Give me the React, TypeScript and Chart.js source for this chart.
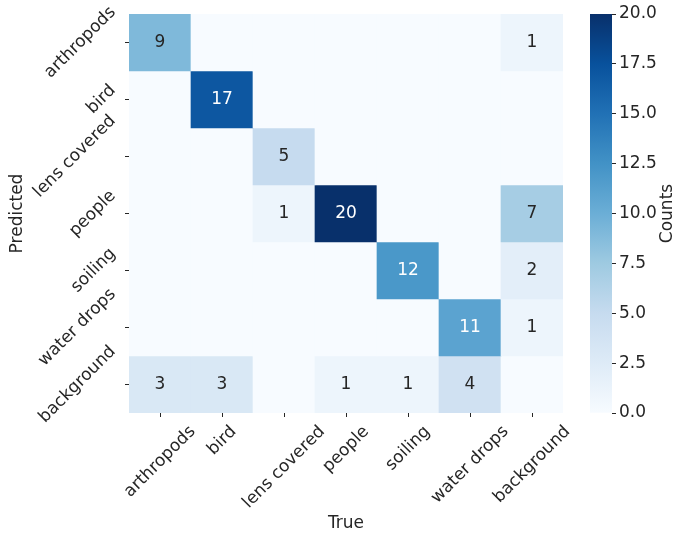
import React, { useEffect, useRef } from "react";
import { Chart, registerables } from "chart.js";

Chart.register(...registerables);

const trueLabels = ["arthropods", "bird", "lens covered", "people", "soiling", "water drops", "background"];
const predLabels = ["arthropods", "bird", "lens covered", "people", "soiling", "water drops", "background"];

const rowArthropods = [9, 0, 0, 0, 0, 0, 1];
const rowBird = [0, 17, 0, 0, 0, 0, 0];
const rowLens = [0, 0, 5, 0, 0, 0, 0];
const rowPeople = [0, 0, 1, 20, 0, 0, 7];
const rowSoiling = [0, 0, 0, 0, 12, 0, 2];
const rowWater = [0, 0, 0, 0, 0, 11, 1];
const rowBackground = [3, 3, 0, 1, 1, 4, 0];
const matrix = [rowArthropods, rowBird, rowLens, rowPeople, rowSoiling, rowWater, rowBackground];

const colorMin = 0;
const colorMax = 20;
const colorTickStep = 2.5;

const FONT = "'DejaVu Sans', sans-serif";
const TEXT = "#262626";
const BLUES = ["#f7fbff", "#deebf7", "#c6dbef", "#9ecae1", "#6baed6", "#4292c6", "#2171b5", "#08519c", "#08306b"];

function hexToRgb(h: string) {
  return [parseInt(h.slice(1, 3), 16), parseInt(h.slice(3, 5), 16), parseInt(h.slice(5, 7), 16)];
}
function bluesRgb(t: number) {
  const x = Math.max(0, Math.min(1, t)) * (BLUES.length - 1);
  const i = Math.min(Math.floor(x), BLUES.length - 2);
  const f = x - i;
  const a = hexToRgb(BLUES[i]);
  const b = hexToRgb(BLUES[i + 1]);
  return a.map((v, k) => Math.round(v + (b[k] - v) * f));
}
function blues(t: number) {
  const [r, g, b] = bluesRgb(t);
  return `rgb(${r},${g},${b})`;
}
function luminance(rgb: number[]) {
  const c = rgb.map((v) => {
    const s = v / 255;
    return s <= 0.03928 ? s / 12.92 : Math.pow((s + 0.055) / 1.055, 2.4);
  });
  return c[0] * 0.2126 + c[1] * 0.7152 + c[2] * 0.0722;
}

const FS = 17;
const SQ2 = Math.SQRT2;

const labelPlugin = {
  id: "heatLabels",
  afterDatasetsDraw(chart: any) {
    const ctx = chart.ctx;
    ctx.save();
    ctx.font = `${FS}px ${FONT}`;
    ctx.textAlign = "center";
    ctx.textBaseline = "middle";
    chart.data.datasets.forEach((ds: any, r: number) => {
      const meta = chart.getDatasetMeta(r);
      meta.data.forEach((el: any, c: number) => {
        const v = matrix[r][c];
        if (!v) return;
        const p = el.getCenterPoint();
        const lum = luminance(bluesRgb((v - colorMin) / (colorMax - colorMin)));
        ctx.fillStyle = lum > 0.408 ? TEXT : "#ffffff";
        ctx.fillText(String(v), p.x, p.y);
      });
    });
    ctx.restore();
  },
  afterDraw(chart: any) {
    const ctx = chart.ctx;
    const xs = chart.scales.x;
    const ys = chart.scales.y;
    const ca = chart.chartArea;
    ctx.save();
    ctx.font = `${FS}px ${FONT}`;
    ctx.fillStyle = TEXT;
    ctx.textAlign = "center";
    ctx.textBaseline = "middle";
    const h = FS * 1.16;
    predLabels.forEach((lab, i) => {
      const w = ctx.measureText(lab).width;
      const bw = (w + h) / SQ2;
      const xr = ca.left - 4 - 5;
      const cx = xr - bw / 2;
      const cy = ys.getPixelForValue(i + 0.5);
      ctx.save();
      ctx.translate(cx, cy);
      ctx.rotate(-Math.PI / 4);
      ctx.fillText(lab, 0, 0);
      ctx.restore();
    });
    trueLabels.forEach((lab, i) => {
      const w = ctx.measureText(lab).width;
      const bh = (w + h) / SQ2;
      const yt = ca.bottom + 4 + 5;
      const cx = xs.getPixelForValue(i);
      const cy = yt + bh / 2;
      ctx.save();
      ctx.translate(cx, cy);
      ctx.rotate(-Math.PI / 4);
      ctx.fillText(lab, 0, 0);
      ctx.restore();
    });
    ctx.restore();
  },
};

const cbarTitlePlugin = {
  id: "cbarTitle",
  afterDraw(chart: any) {
    const ctx = chart.ctx;
    const ca = chart.chartArea;
    ctx.save();
    ctx.font = `${FS}px ${FONT}`;
    ctx.fillStyle = TEXT;
    ctx.textAlign = "center";
    ctx.textBaseline = "middle";
    ctx.translate(98, (ca.top + ca.bottom) / 2);
    ctx.rotate(-Math.PI / 2);
    ctx.fillText("Counts", 0, 0);
    ctx.restore();
  },
};

export default function App() {
  const mainRef = useRef<HTMLCanvasElement>(null);
  const cbarRef = useRef<HTMLCanvasElement>(null);

  useEffect(() => {
    const main = new Chart(mainRef.current as HTMLCanvasElement, {
      type: "bar",
      data: {
        labels: trueLabels,
        datasets: predLabels.map((name, r) => ({
          label: name,
          data: trueLabels.map(() => 1),
          backgroundColor: matrix[r].map((v) => blues((v - colorMin) / (colorMax - colorMin))),
          borderWidth: 0,
          barPercentage: 1,
          categoryPercentage: 1,
        })),
      },
      options: {
        animation: false,
        responsive: false,
        layout: { padding: { top: 14, right: 12, left: 0, bottom: 0 } },
        plugins: { legend: { display: false }, tooltip: { enabled: false } },
        scales: {
          x: {
            type: "category",
            stacked: true,
            offset: true,
            grid: { offset: false, drawOnChartArea: false, drawTicks: true, tickLength: 4, color: TEXT, lineWidth: 1 },
            border: { display: false },
            ticks: { display: false },
            title: { display: true, text: "True", color: TEXT, font: { family: FONT, size: FS }, padding: { top: 0, bottom: 2 } },
            afterFit: (s: any) => { s.height = 123; },
          },
          y: {
            type: "linear",
            stacked: true,
            min: 0,
            max: predLabels.length,
            reverse: true,
            grid: { drawOnChartArea: false, drawTicks: true, tickLength: 4, color: TEXT, lineWidth: 1 },
            border: { display: false },
            ticks: { display: false },
            afterBuildTicks: (s: any) => { s.ticks = predLabels.map((_, i) => ({ value: i + 0.5 })); },
            title: { display: true, text: "Predicted", color: TEXT, font: { family: FONT, size: FS }, padding: { top: 7, bottom: 0 } },
            afterFit: (s: any) => { s.width = 129; },
          },
        },
      } as any,
      plugins: [labelPlugin],
    });

    const cbar = new Chart(cbarRef.current as HTMLCanvasElement, {
      type: "bar",
      data: {
        labels: [""],
        datasets: [
          {
            data: [[colorMin, colorMax]],
            backgroundColor: (c: any) => {
              const ca = c.chart.chartArea;
              if (!ca) return BLUES[0];
              const g = c.chart.ctx.createLinearGradient(0, ca.bottom, 0, ca.top);
              BLUES.forEach((col, i) => g.addColorStop(i / (BLUES.length - 1), col));
              return g;
            },
            borderWidth: 0,
            barPercentage: 1,
            categoryPercentage: 1,
          } as any,
        ],
      },
      options: {
        animation: false,
        responsive: false,
        layout: { padding: { top: 14, left: 20, right: 0, bottom: 123 } },
        plugins: { legend: { display: false }, tooltip: { enabled: false } },
        scales: {
          x: { display: false },
          y: {
            position: "right",
            min: colorMin,
            max: colorMax,
            grid: { drawOnChartArea: false, drawTicks: true, tickLength: 4, color: TEXT, lineWidth: 1 },
            border: { display: false },
            ticks: {
              stepSize: colorTickStep,
              padding: 3,
              color: TEXT,
              font: { family: FONT, size: FS },
              callback: (v: any) => Number(v).toFixed(1),
            },
            afterFit: (s: any) => { s.width = 63; },
          },
        },
      } as any,
      plugins: [cbarTitlePlugin],
    });

    return () => {
      main.destroy();
      cbar.destroy();
    };
  }, []);

  return (
    <div style={{ position: "fixed", left: 0, top: 0, width: 675, height: 536, background: "#fff" }}>
      <canvas ref={mainRef} width={575} height={536} style={{ position: "absolute", left: 0, top: 0 }} />
      <canvas ref={cbarRef} width={105} height={536} style={{ position: "absolute", left: 570, top: 0 }} />
    </div>
  );
}
